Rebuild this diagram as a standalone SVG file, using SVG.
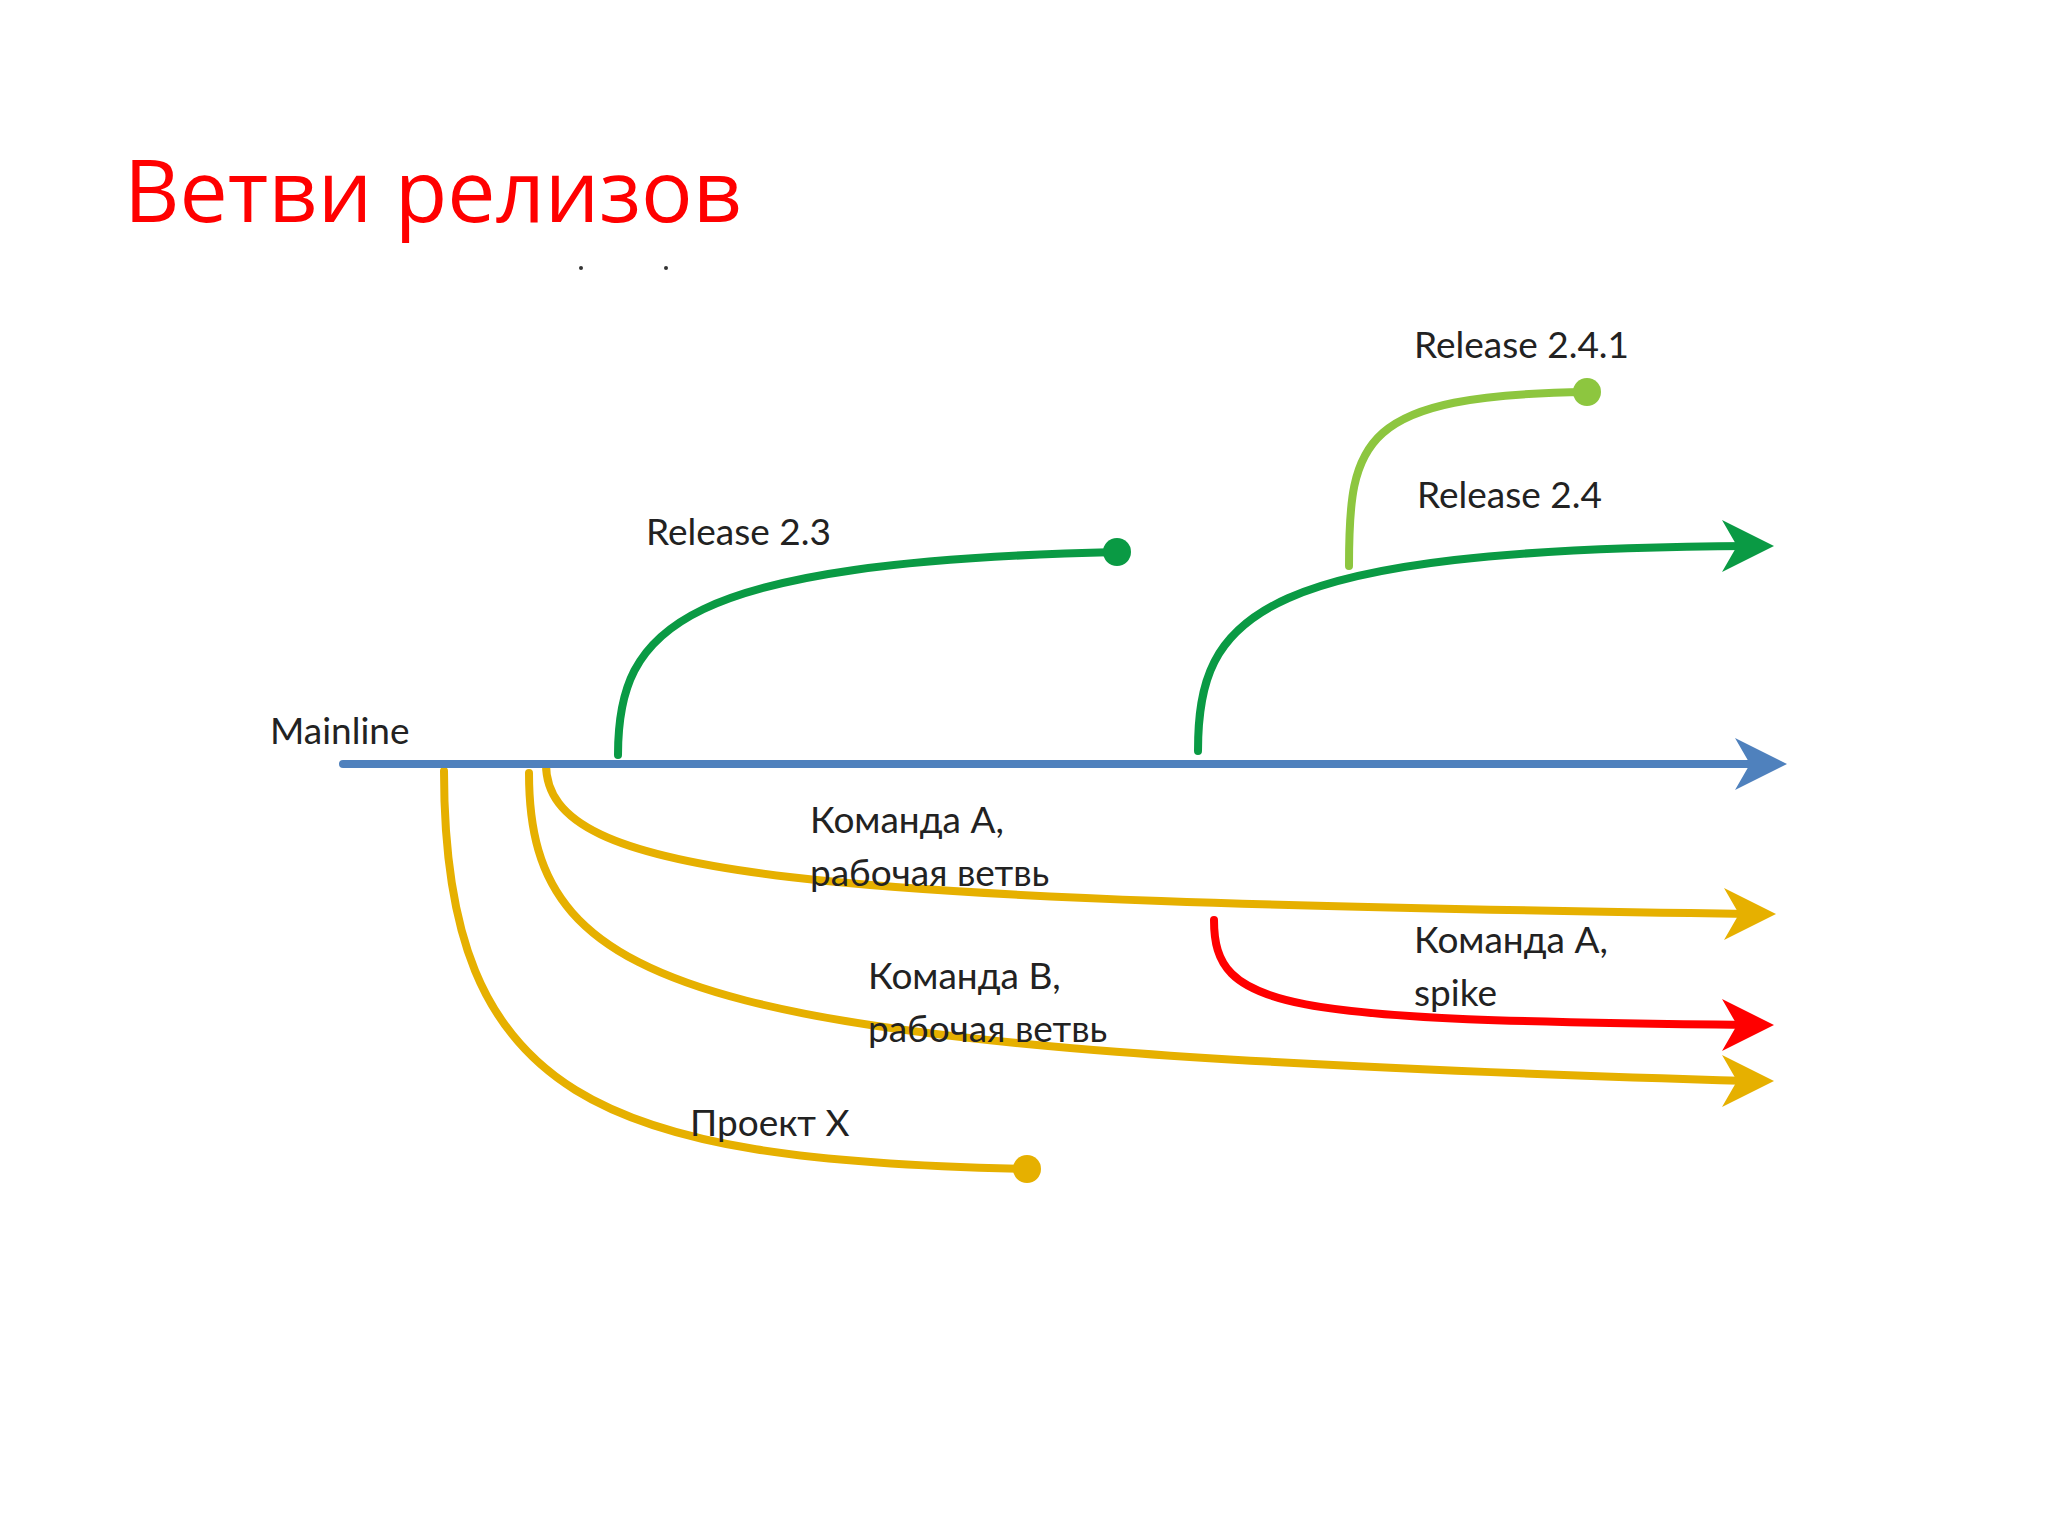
<svg xmlns="http://www.w3.org/2000/svg" width="2048" height="1536" viewBox="0 0 2048 1536">
<style>
.t{font-family:Lato,"Open Sans",sans-serif;font-size:37px;fill:#222}
.l{fill:none;stroke-width:8;stroke-linecap:round}
.b{stroke:#4f81bd}.g{stroke:#0a9a44}.lg{stroke:#8dc63f}.y{stroke:#e6b000}.r{stroke:#ff0000}
</style>
<rect width="2048" height="1536" fill="#fff"/>
<text x="124" y="222" font-family="'Open Sans',Lato,sans-serif" font-size="86" fill="#ff0000">Ветви релизов</text>
<circle cx="581" cy="268" r="2" fill="#333"/><circle cx="666" cy="268" r="2" fill="#333"/>
<g id="connectors">
<path class="l lg" d="M1349 566 C1349 440 1360 395 1587 392"/>
<path class="l g" d="M618 755 C618 627 679 562 1117 552"/>
<path class="l g" d="M1198 751 C1198 614 1254 549 1750 546"/>
<path class="l y" d="M546 764 C546 880 800 900 1750 914"/>
<path class="l y" d="M529 773 C529 1000 700 1050 1750 1081"/>
<path class="l y" d="M444 771 C444 1100 600 1160 1027 1169"/>
<path class="l r" d="M1214 920 C1214 1010 1280 1020 1750 1025"/>
<path class="l b" d="M343 764 L1760 764"/>
</g>
<g id="ends">
<circle cx="1117" cy="552" r="14" fill="#0a9a44"/>
<circle cx="1587" cy="392" r="14" fill="#8dc63f"/>
<circle cx="1027" cy="1169" r="14" fill="#e6b000"/>
<polygon points="1787,764 1735,738 1750,764 1735,790" fill="#4f81bd"/>
<polygon points="1774,546 1722,520 1737,546 1722,572" fill="#0a9a44"/>
<polygon points="1776,914 1724,888 1739,914 1724,940" fill="#e6b000"/>
<polygon points="1774,1081 1722,1055 1737,1081 1722,1107" fill="#e6b000"/>
<polygon points="1774,1025 1722,999 1737,1025 1722,1051" fill="#ff0000"/>
</g>
<g id="labels">
<text class="t" x="270" y="744">Mainline</text>
<text class="t" x="646" y="545">Release 2.3</text>
<text class="t" x="1417" y="508">Release 2.4</text>
<text class="t" x="1414" y="358">Release 2.4.1</text>
<text class="t" x="810" y="833">Команда А,</text>
<text class="t" x="810" y="886">рабочая ветвь</text>
<text class="t" x="868" y="989">Команда В,</text>
<text class="t" x="868" y="1042">рабочая ветвь</text>
<text class="t" x="690" y="1136">Проект Х</text>
<text class="t" x="1414" y="953">Команда А,</text>
<text class="t" x="1414" y="1006">spike</text>
</g>
</svg>
